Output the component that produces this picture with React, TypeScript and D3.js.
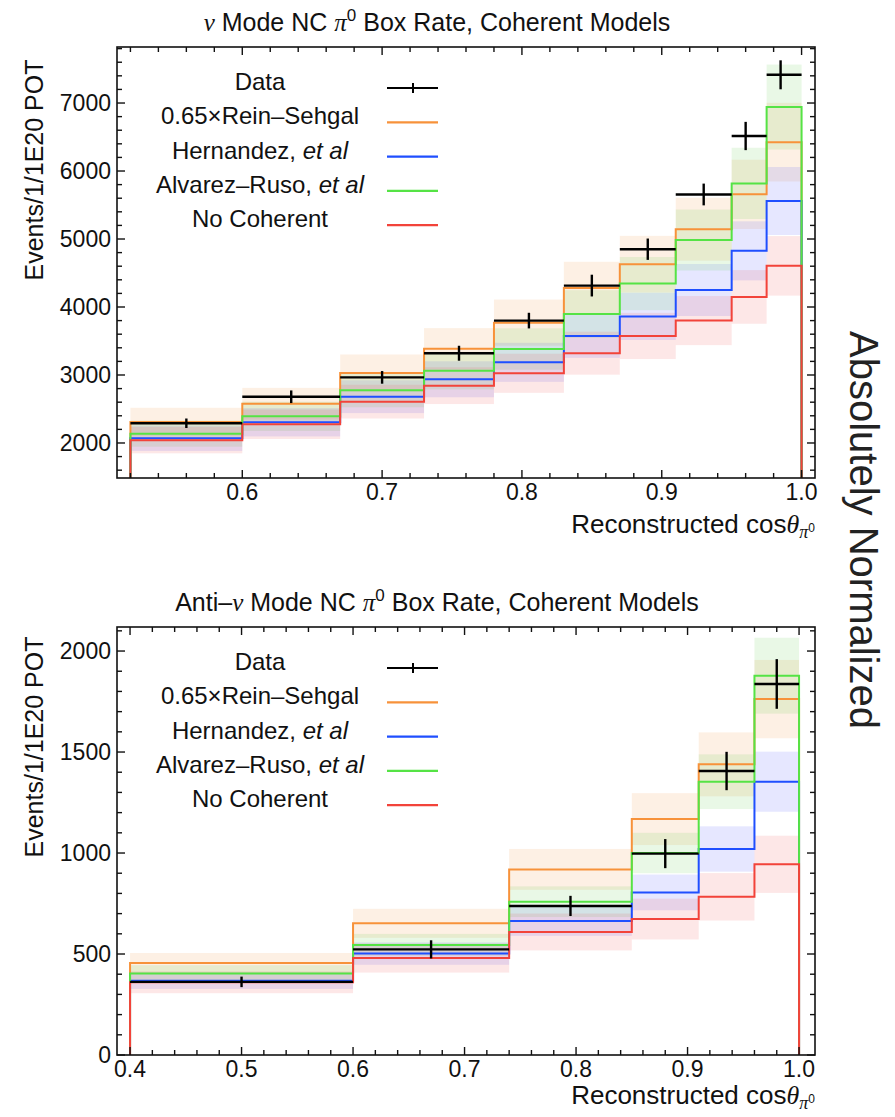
import * as d3 from "d3";

const SANS = "'Liberation Sans', Arial, Helvetica, sans-serif";
const SERIF = "'Liberation Serif', 'Times New Roman', serif";

// --- nu mode (top panel) ---
const nuEdges = [0.52, 0.6, 0.67, 0.73, 0.78, 0.83, 0.87, 0.91, 0.95, 0.975, 1.0];
const nuDataX = [0.56, 0.635, 0.7, 0.755, 0.805, 0.85, 0.89, 0.93, 0.96, 0.985];
const nuData = [2290, 2680, 2965, 3320, 3800, 4315, 4850, 5655, 6515, 7415];
const nuDataErr = [70, 93, 93, 110, 115, 160, 157, 160, 208, 213];
const nuReinSehgal = [2310, 2578, 3029, 3385, 3770, 4280, 4630, 5145, 5657, 6424];
const nuHernandez = [2070, 2304, 2681, 2937, 3186, 3574, 3862, 4250, 4826, 5559];
const nuAlvarez = [2137, 2392, 2775, 3064, 3382, 3897, 4344, 4985, 5818, 6941];
const nuNoCoherent = [2042, 2275, 2608, 2843, 3025, 3320, 3574, 3800, 4148, 4605];
const nuBandFrac = [0.09, 0.09, 0.09, 0.095]; // RS, Hern, Alv, NoCoh
const nuXTicks = [0.6, 0.7, 0.8, 0.9, 1.0];
const nuYTicks = [2000, 3000, 4000, 5000, 6000, 7000];

// --- anti-nu mode (bottom panel) ---
const anuEdges = [0.4, 0.6, 0.74, 0.85, 0.91, 0.96, 1.0];
const anuDataX = [0.5, 0.67, 0.795, 0.88, 0.935, 0.98];
const anuData = [362, 523, 738, 997, 1406, 1837];
const anuDataErr = [26, 45, 50, 72, 95, 123];
const anuReinSehgal = [455, 652, 919, 1168, 1439, 1762];
const anuHernandez = [368, 502, 663, 805, 1020, 1353];
const anuAlvarez = [404, 545, 759, 1000, 1353, 1878];
const anuNoCoherent = [360, 480, 609, 673, 783, 944];
const anuBandFrac = [0.11, 0.11, 0.1, 0.15];
const anuXTicks = [0.4, 0.5, 0.6, 0.7, 0.8, 0.9, 1.0];
const anuYTicks = [0, 500, 1000, 1500, 2000];

const modelColors = ["#f7923a", "#1f4fff", "#55e345", "#f2433a"];
const bandColors = ["#f08a30", "#3a46ff", "#52cc3c", "#f04848"];

const FL = 117;
const FR = 815;

type PanelProps = {
  anti: boolean;
  top: number;
  bottom: number;
  xDomain: [number, number];
  yDomain: [number, number];
  edges: number[];
  dataX: number[];
  data: number[];
  dataErr: number[];
  models: number[][];
  bandFrac: number[];
  xTicks: number[];
  yTicks: number[];
  xMinor: number;
  yMinor: number;
  ylabelY: number;
  xlabelY: number;
  id: string;
};

const range = (d0: number, d1: number, step: number) =>
  d3.range(Math.ceil(d0 / step - 1e-9), Math.floor(d1 / step + 1e-9) + 1).map(k => k * step);

function Panel(p: PanelProps) {
  const x = d3.scaleLinear().domain(p.xDomain).range([FL, FR]);
  const y = d3.scaleLinear().domain(p.yDomain).range([p.bottom, p.top]);
  const floor = p.yDomain[0];

  const stepPath = (vals: number[]) => {
    const path = d3.path();
    path.moveTo(x(p.edges[0]), y(floor));
    vals.forEach((v, i) => {
      path.lineTo(x(p.edges[i]), y(v));
      path.lineTo(x(p.edges[i + 1]), y(v));
    });
    path.lineTo(x(p.edges[p.edges.length - 1]), y(floor));
    return path.toString();
  };

  const xMinor = range(p.xDomain[0], p.xDomain[1], p.xMinor);
  const yMinor = range(p.yDomain[0], p.yDomain[1], p.yMinor);
  const isMajor = (v: number, majors: number[]) => majors.some(m => Math.abs(m - v) < 1e-6);
  const fmtX = d3.format(".1f");

  const legend = [
    { label: <>Data</>, color: "black" },
    { label: <>0.65×Rein–Sehgal</>, color: modelColors[0] },
    { label: <>Hernandez, <tspan fontStyle="italic">et al</tspan></>, color: modelColors[1] },
    { label: <>Alvarez–Ruso, <tspan fontStyle="italic">et al</tspan></>, color: modelColors[2] },
    { label: <>No Coherent</>, color: modelColors[3] },
  ];

  const titleBase = p.top - 16;
  const clipId = `clip-${p.id}`;

  return (
    <g fontFamily={SANS}>
      <defs>
        <clipPath id={clipId}>
          <rect x={FL} y={p.top} width={FR - FL} height={p.bottom - p.top} />
        </clipPath>
      </defs>

      {/* title */}
      <text x={437} y={titleBase} textAnchor="middle" fontSize={25} fill="#111">
        {p.anti ? "Anti–" : ""}
        <tspan fontFamily={SERIF} fontStyle="italic">ν</tspan> Mode NC{" "}
        <tspan fontFamily={SERIF} fontStyle="italic">π</tspan>
        <tspan fontSize={17} dy={-10}>0</tspan>
        <tspan dy={10}> Box Rate, Coherent Models</tspan>
      </text>

      <g clipPath={`url(#${clipId})`}>
        {/* error bands */}
        {p.models.map((vals, m) =>
          vals.map((v, i) => (
            <rect
              key={`b${m}-${i}`}
              x={x(p.edges[i])}
              width={x(p.edges[i + 1]) - x(p.edges[i])}
              y={y(v * (1 + p.bandFrac[m]))}
              height={y(v * (1 - p.bandFrac[m])) - y(v * (1 + p.bandFrac[m]))}
              fill={bandColors[m]}
              fillOpacity={0.13}
            />
          ))
        )}
        {/* model histograms */}
        {p.models.map((vals, m) => (
          <path key={`l${m}`} d={stepPath(vals)} fill="none" stroke={modelColors[m]} strokeWidth={2} />
        ))}
        {/* data */}
        {p.data.map((v, i) => (
          <g key={`d${i}`} stroke="black" strokeWidth={2.4}>
            <line x1={x(p.edges[i])} x2={x(p.edges[i + 1])} y1={y(v)} y2={y(v)} />
            <line x1={x(p.dataX[i])} x2={x(p.dataX[i])} y1={y(v - p.dataErr[i])} y2={y(v + p.dataErr[i])} />
          </g>
        ))}
      </g>

      {/* frame */}
      <rect x={FL} y={p.top} width={FR - FL} height={p.bottom - p.top} fill="none" stroke="#111" strokeWidth={1.6} />

      {/* ticks on all four sides */}
      {xMinor.map(v => {
        const len = isMajor(v, p.xTicks) ? 8 : 5;
        return (
          <g key={`xt${v}`} stroke="#111" strokeWidth={1.4}>
            <line x1={x(v)} x2={x(v)} y1={p.bottom} y2={p.bottom - len} />
            <line x1={x(v)} x2={x(v)} y1={p.top} y2={p.top + len} />
          </g>
        );
      })}
      {yMinor.map(v => {
        const len = isMajor(v, p.yTicks) ? 8 : 5;
        return (
          <g key={`yt${v}`} stroke="#111" strokeWidth={1.4}>
            <line x1={FL} x2={FL + len} y1={y(v)} y2={y(v)} />
            <line x1={FR} x2={FR - len} y1={y(v)} y2={y(v)} />
          </g>
        );
      })}
      {p.xTicks.map(v => (
        <text key={`xl${v}`} x={x(v)} y={p.bottom + 22} textAnchor="middle" fontSize={23} fill="#111">
          {fmtX(v)}
        </text>
      ))}
      {p.yTicks.map(v => (
        <text key={`yl${v}`} x={FL - 6} y={y(v)} dy="0.36em" textAnchor="end" fontSize={23} fill="#111">
          {v}
        </text>
      ))}

      {/* axis labels */}
      <text transform={`translate(43,${p.ylabelY}) rotate(-90)`} textAnchor="middle" fontSize={25} fill="#111">
        Events/1/1E20 POT
      </text>
      <text x={FR} y={p.xlabelY} textAnchor="end" fontSize={26} fill="#111">
        Reconstructed cos
        <tspan fontFamily={SERIF} fontStyle="italic">θ</tspan>
        <tspan fontFamily={SERIF} fontStyle="italic" fontSize={18} dy={5}>π</tspan>
        <tspan fontSize={12} dy={-6}>0</tspan>
      </text>

      {/* legend */}
      {legend.map((e, i) => {
        const ly = p.top + 41 + i * 34.3;
        return (
          <g key={`lg${i}`}>
            <text x={260} y={ly + 2} textAnchor="middle" fontSize={24} fill="#111">
              {e.label}
            </text>
            <line x1={387} x2={438} y1={ly} y2={ly} stroke={e.color} strokeWidth={i === 0 ? 2 : 2.2} />
            {i === 0 && <line x1={413} x2={413} y1={ly - 5} y2={ly + 5} stroke="black" strokeWidth={2} />}
          </g>
        );
      })}
    </g>
  );
}

export default function App() {
  return (
    <svg
      width={895}
      height={1117}
      style={{ position: "absolute", left: 0, top: 0, background: "white" }}
    >
      <Panel
        id="nu"
        anti={false}
        top={47}
        bottom={478}
        xDomain={[0.5104, 1.0096]}
        yDomain={[1485, 7824]}
        edges={nuEdges}
        dataX={nuDataX}
        data={nuData}
        dataErr={nuDataErr}
        models={[nuReinSehgal, nuHernandez, nuAlvarez, nuNoCoherent]}
        bandFrac={nuBandFrac}
        xTicks={nuXTicks}
        yTicks={nuYTicks}
        xMinor={0.02}
        yMinor={200}
        ylabelY={170}
        xlabelY={533}
      />
      <Panel
        id="anu"
        anti={true}
        top={627}
        bottom={1055}
        xDomain={[0.3883, 1.0143]}
        yDomain={[0, 2119]}
        edges={anuEdges}
        dataX={anuDataX}
        data={anuData}
        dataErr={anuDataErr}
        models={[anuReinSehgal, anuHernandez, anuAlvarez, anuNoCoherent]}
        bandFrac={anuBandFrac}
        xTicks={anuXTicks}
        yTicks={anuYTicks}
        xMinor={0.02}
        yMinor={100}
        ylabelY={747}
        xlabelY={1104}
      />
      <text
        transform="translate(850,530) rotate(90)"
        textAnchor="middle"
        fontFamily={SANS}
        fontSize={40}
        fill="#222"
      >
        Absolutely Normalized
      </text>
    </svg>
  );
}
